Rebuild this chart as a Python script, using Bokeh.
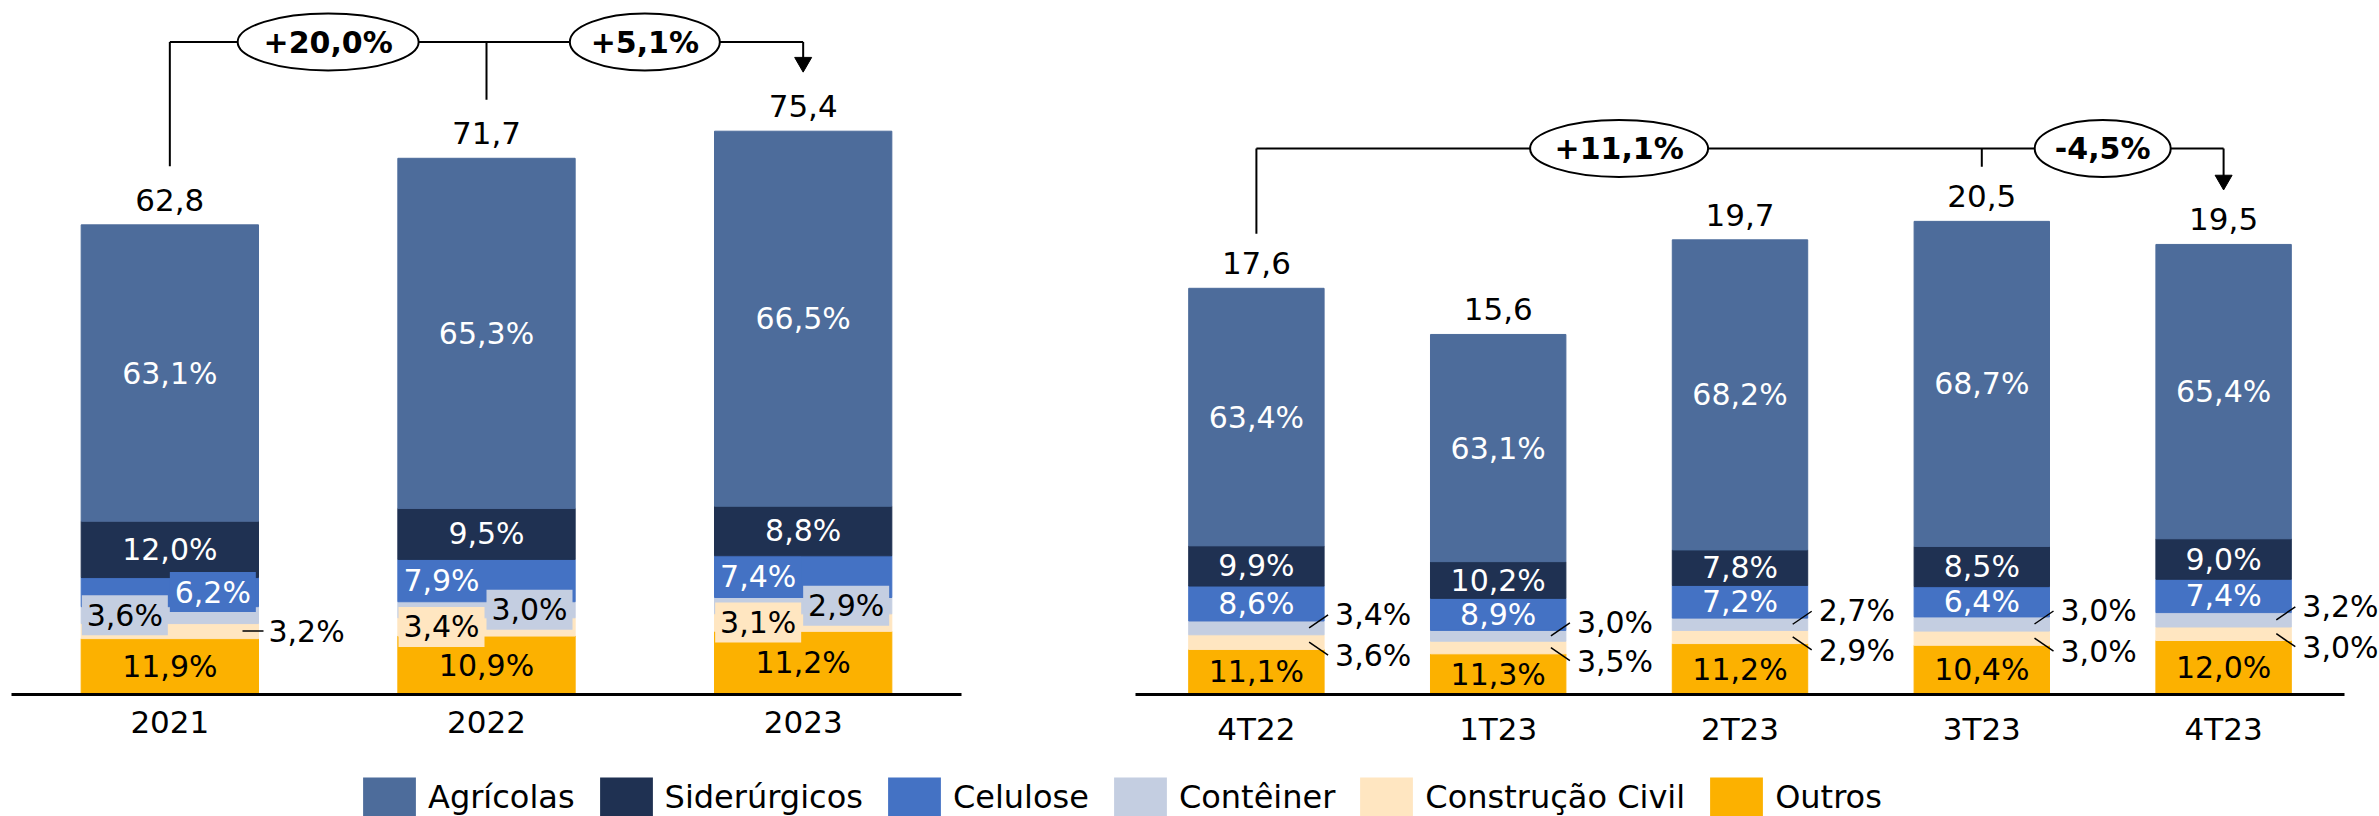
from bokeh.plotting import figure
from bokeh.models import ColumnDataSource, FactorRange, Range1d, Legend, LegendItem
from bokeh.transform import dodge
from bokeh.layouts import row, column
from bokeh.core.properties import value
from bokeh.embed import file_html
from bokeh.resources import INLINE

# ---------------- data ----------------
series = ["Agrícolas", "Siderúrgicos", "Celulose", "Contêiner", "Construção Civil", "Outros"]

years = ["2021", "2022", "2023"]
year_totals = [62.8, 71.7, 75.4]
year_agricolas = [63.1, 65.3, 66.5]
year_siderurgicos = [12.0, 9.5, 8.8]
year_celulose = [6.2, 7.9, 7.4]
year_conteiner = [3.6, 3.0, 2.9]
year_construcao = [3.2, 3.4, 3.1]
year_outros = [11.9, 10.9, 11.2]
year_growth_pairs = [("2021", "2022"), ("2022", "2023")]
year_growth = ["+20,0%", "+5,1%"]

quarters = ["4T22", "1T23", "2T23", "3T23", "4T23"]
quarter_totals = [17.6, 15.6, 19.7, 20.5, 19.5]
quarter_agricolas = [63.4, 63.1, 68.2, 68.7, 65.4]
quarter_siderurgicos = [9.9, 10.2, 7.8, 8.5, 9.0]
quarter_celulose = [8.6, 8.9, 7.2, 6.4, 7.4]
quarter_conteiner = [3.4, 3.0, 2.7, 3.0, 3.2]
quarter_construcao = [3.6, 3.5, 2.9, 3.0, 3.0]
quarter_outros = [11.1, 11.3, 11.2, 10.4, 12.0]
quarter_growth_pairs = [("4T22", "3T23"), ("3T23", "4T23")]
quarter_growth = ["+11,1%", "-4,5%"]

# ---------------- styles ----------------
FONT = "DejaVu Sans"
COLORS = {"Agrícolas": "#4D6C9B", "Siderúrgicos": "#1F3152", "Celulose": "#4472C4",
          "Contêiner": "#C4CEE1", "Construção Civil": "#FFE6C1", "Outros": "#FCB100"}
TEXT_COLOR = {"Agrícolas": "white", "Siderúrgicos": "white", "Celulose": "white",
              "Contêiner": "black", "Construção Civil": "black", "Outros": "black"}
STACK = ["Outros", "Construção Civil", "Contêiner", "Celulose", "Siderúrgicos", "Agrícolas"]
BAR_W = 0.56
FH = 694
LBL = "30px"


def fmt(v, pct=True):
    s = f"{v:.1f}".replace(".", ",")
    return s + "%" if pct else s


def build_panel(cats, totals, pcts, modes, pairs, glabels, ell_w, ux, pad, yend,
                mb_left, mb_right, level_px, off_px):
    n = len(cats)
    fw = int(round(ux * (n + 2 * pad)))
    uy = FH / yend
    hb = BAR_W * ux / 2.0
    xr = FactorRange(factors=cats, range_padding=pad, range_padding_units="absolute")
    p = figure(x_range=xr, y_range=Range1d(0, yend),
               frame_width=fw, frame_height=FH, min_border_left=mb_left, min_border_right=mb_right,
               min_border_top=0, min_border_bottom=74, y_axis_location=None,
               output_backend="svg", toolbar_location=None, outline_line_color=None)
    p.xgrid.visible = False
    p.ygrid.visible = False
    ax = p.xaxis[0]
    ax.axis_line_width = 3
    ax.axis_line_color = "black"
    if pad > 0:
        ax.bounds = (0, n)
    ax.major_tick_line_color = None
    ax.minor_tick_line_color = None
    ax.major_tick_out = 0
    ax.major_tick_in = 0
    ax.major_label_text_font = FONT
    ax.major_label_text_font_size = "31px"
    ax.major_label_text_color = "black"
    ax.major_label_standoff = 16

    data = {"cat": cats}
    for k, s in enumerate(STACK):
        data[f"s{k}"] = [pcts[s][i] * totals[i] / 100.0 for i in range(n)]
    src = ColumnDataSource(data)
    p.vbar_stack([f"s{k}" for k in range(len(STACK))], x="cat", width=BAR_W,
                 color=[COLORS[s] for s in STACK], source=src)

    groups = {m: dict(x=[], y=[], t=[], c=[], bg=[]) for m in ["c", "l", "r", "o", "up", "down"]}
    for i, cat in enumerate(cats):
        base = 0.0
        for s in STACK:
            h = pcts[s][i] * totals[i] / 100.0
            mid = base + h / 2.0
            base += h
            m = modes.get(cat, modes.get("*", {})).get(s, "c")
            g = groups[m]
            g["x"].append(cat)
            g["y"].append(mid)
            g["t"].append(fmt(pcts[s][i]))
            g["c"].append(TEXT_COLOR[s])
            g["bg"].append(COLORS[s])

    tk = dict(text_align="center", text_baseline="middle", text_font=value(FONT), text_font_size=LBL)
    # centred labels
    p.text(x="x", y="y", text="t", text_color="c", source=ColumnDataSource(groups["c"]), **tk)
    # boxed labels
    for m, dx in (("l", -45.0), ("r", 43.0)):
        g = groups[m]
        if not g["x"]:
            continue
        s_ = ColumnDataSource(g)
        xx = dodge("x", dx / ux, range=p.x_range)
        p.rect(x=xx, y="y", width=86, height=40, width_units="screen", height_units="screen",
               fill_color="bg", line_color=None, source=s_)
        p.text(x=xx, y="y", text="t", text_color="c", source=s_, **tk)
    # outside with horizontal dash
    g = groups["o"]
    if g["x"]:
        s_ = ColumnDataSource(g)
        p.segment(x0=dodge("x", (hb - 16) / ux, range=p.x_range), y0="y",
                  x1=dodge("x", (hb + 5) / ux, range=p.x_range), y1="y",
                  line_color="black", line_width=1.5, source=s_)
        p.text(x=dodge("x", (hb + 10) / ux, range=p.x_range), y="y", text="t", text_color="black",
               text_align="left", text_baseline="middle", text_font=value(FONT), text_font_size=LBL,
               source=s_)
    # outside with diagonal leaders
    for m, sign in (("up", 1.0), ("down", -1.0)):
        g = groups[m]
        if not g["x"]:
            continue
        d = dict(g)
        d["y1"] = [y + sign * 13.0 / uy for y in g["y"]]
        d["yl"] = [y + sign * 13.5 / uy for y in g["y"]]
        s_ = ColumnDataSource(d)
        p.segment(x0=dodge("x", (hb - 15) / ux, range=p.x_range), y0="y",
                  x1=dodge("x", (hb + 4) / ux, range=p.x_range), y1="y1",
                  line_color="black", line_width=1.5, source=s_)
        p.text(x=dodge("x", (hb + 11) / ux, range=p.x_range), y="yl", text="t", text_color="black",
               text_align="left", text_baseline="middle", text_font=value(FONT), text_font_size=LBL,
               source=s_)

    # totals
    p.text(x=cats, y=[t + 25.0 / uy for t in totals], text=[fmt(t, False) for t in totals],
           text_color="black", text_align="center", text_baseline="middle",
           text_font=value(FONT), text_font_size="31px")

    # growth brackets
    level = (FH - level_px) / uy
    off = off_px / uy
    tot = dict(zip(cats, totals))
    first, last = pairs[0][0], pairs[-1][1]
    p.segment(x0=[first], y0=[level], x1=[last], y1=[level], line_color="black", line_width=2)
    for f, _ in pairs:
        p.segment(x0=[f], y0=[tot[f] + off], x1=[f], y1=[level], line_color="black", line_width=2)
    tip = tot[last] + off
    size = 17
    tri_c = tip + (2.0 / 3.0) * 0.866 * size / uy
    p.segment(x0=[last], y0=[tri_c], x1=[last], y1=[level], line_color="black", line_width=2)
    p.scatter(x=[last], y=[tri_c], marker="inverted_triangle", size=size,
              fill_color="black", line_color="black")
    for (f, t), lab, w in zip(pairs, glabels, ell_w):
        offs = (cats.index(t) - cats.index(f)) / 2.0
        s_ = ColumnDataSource(dict(f=[f], y=[level], t=[lab]))
        xx = dodge("f", offs, range=p.x_range)
        p.ellipse(x=xx, y="y", width=w, height=57, width_units="screen", height_units="screen",
                  fill_color="white", line_color="black", line_width=2, source=s_)
        p.text(x=xx, y="y", text="t", text_color="black", text_align="center",
               text_baseline="middle", text_font=value(FONT), text_font_size="30px",
               text_font_style="bold", source=s_)
    return p


year_pcts = {"Agrícolas": year_agricolas, "Siderúrgicos": year_siderurgicos,
             "Celulose": year_celulose, "Contêiner": year_conteiner,
             "Construção Civil": year_construcao, "Outros": year_outros}
quarter_pcts = {"Agrícolas": quarter_agricolas, "Siderúrgicos": quarter_siderurgicos,
                "Celulose": quarter_celulose, "Contêiner": quarter_conteiner,
                "Construção Civil": quarter_construcao, "Outros": quarter_outros}

year_modes = {"2021": {"Celulose": "r", "Contêiner": "l", "Construção Civil": "o"},
              "2022": {"Celulose": "l", "Contêiner": "r", "Construção Civil": "l"},
              "2023": {"Celulose": "l", "Contêiner": "r", "Construção Civil": "l"}}
quarter_modes = {"*": {"Contêiner": "up", "Construção Civil": "down"}}

# left: frame 11..961 (950 px, 3 categories); right: frame 1100..2379 (axis 1135..2344)
left = build_panel(years, year_totals, year_pcts, year_modes, year_growth_pairs, year_growth,
                   [181, 150], 950 / 3.0, 0.0, 92.8, 11, 139, 41.5, 58.5)
right = build_panel(quarters, quarter_totals, quarter_pcts, quarter_modes, quarter_growth_pairs,
                    quarter_growth, [178, 136], 1209 / 5.0, 35 / (1209 / 5.0), 30.07, 0, 0,
                    148.0, 54.5)

# legend strip (area legend swatches are drawn at 80% of the glyph box)
lg = figure(width=2379, height=48, min_border=0, x_axis_location=None, y_axis_location=None,
            output_backend="svg", toolbar_location=None, outline_line_color=None)
lg.xgrid.visible = False
lg.ygrid.visible = False
items = []
for s in series:
    r = lg.vbar(x=[0], top=[0], width=0.0, fill_color=COLORS[s], line_color=None, fill_alpha=1.0)
    items.append(LegendItem(label=s, renderers=[r]))
legend = Legend(items=items, orientation="horizontal", location=(356, -5), glyph_width=66,
                glyph_height=49, label_standoff=6, spacing=18, padding=0, margin=0,
                border_line_color=None, background_fill_alpha=0, label_text_font=FONT,
                label_text_font_size="32px", label_text_color="black", label_height=49)
lg.add_layout(legend)

layout = column(row(left, right), lg)
open("out.html", "w").write(file_html(layout, INLINE, title="chart"))
